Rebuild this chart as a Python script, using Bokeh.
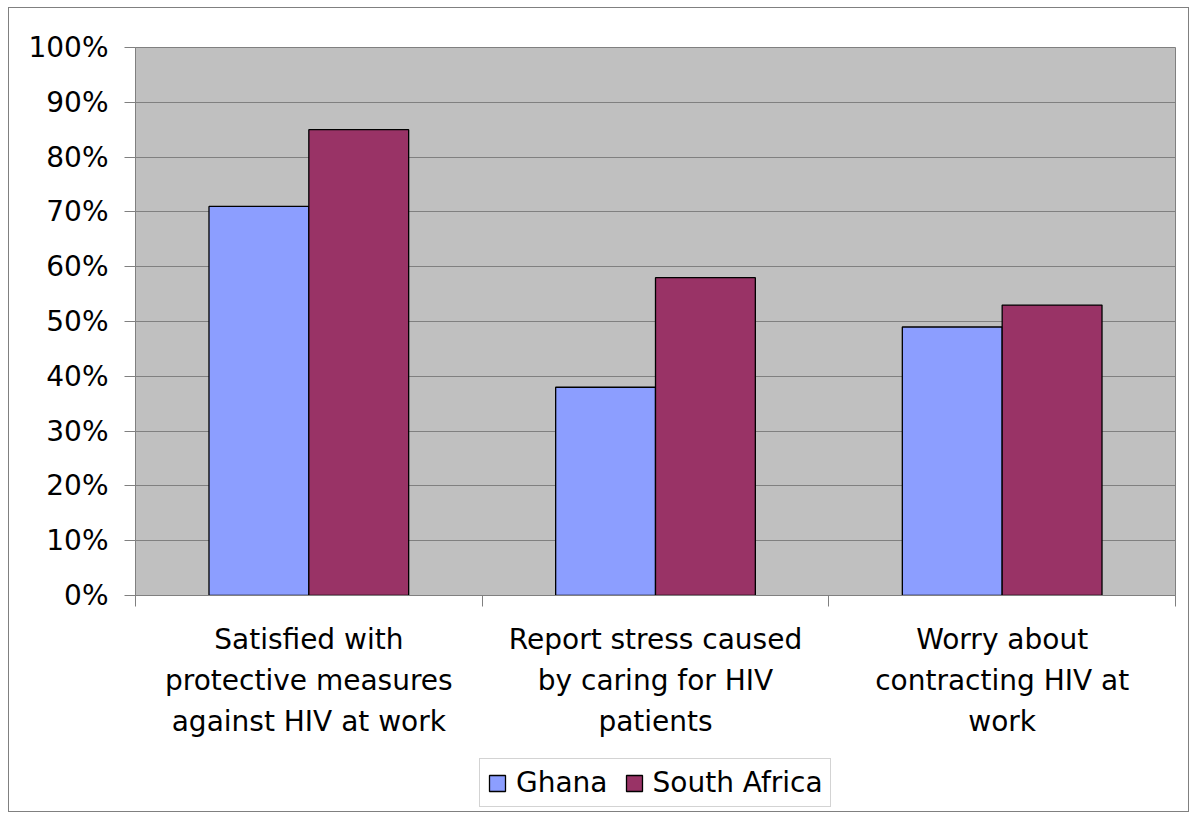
from bokeh.plotting import figure
from bokeh.layouts import column
from bokeh.models import Range1d, LinearAxis, FixedTicker, Legend, LegendItem, ColumnDataSource
from bokeh.transform import dodge
from bokeh.embed import file_html
from bokeh.resources import INLINE

# ---- data ----
categories = ["Satisfied with protective measures against HIV at work",
              "Report stress caused by caring for HIV patients",
              "Worry about contracting HIV at work"]
category_lines = [["Satisfied with", "protective measures", "against HIV at work"],
                  ["Report stress caused", "by caring for HIV", "patients"],
                  ["Worry about", "contracting HIV at", "work"]]
ghana = [71, 38, 49]
south_africa = [85, 58, 53]
y_ticks = [0, 10, 20, 30, 40, 50, 60, 70, 80, 90, 100]
series_names = ["Ghana", "South Africa"]
series_colors = ["#8C9EFF", "#993366"]

FONT = "DejaVu Sans"
FSIZE = "28px"
GRAY = "#808080"

centers = [i + 0.5 for i in range(len(categories))]
bounds = [float(i) for i in range(len(categories) + 1)]
src = ColumnDataSource(dict(x=centers, ghana=ghana, sa=south_africa))

p = figure(width=1179, height=744, output_backend="svg", toolbar_location=None,
           x_range=Range1d(0, len(categories)), y_range=Range1d(0, 100),
           x_axis_location=None,
           min_border_left=126, min_border_top=39, min_border_right=13, min_border_bottom=157)
p.background_fill_color = "#C0C0C0"
p.border_fill_color = "white"
p.outline_line_color = GRAY
p.outline_line_width = 1

bw = 0.288
p.vbar(x=dodge("x", -bw / 2, range=p.x_range), top="ghana", width=bw, source=src,
       fill_color=series_colors[0], line_color="black", line_width=1.3)
p.vbar(x=dodge("x", bw / 2, range=p.x_range), top="sa", width=bw, source=src,
       fill_color=series_colors[1], line_color="black", line_width=1.3)

# y axis
ya = p.yaxis[0]
ya.ticker = FixedTicker(ticks=y_ticks)
ya.major_label_overrides = {v: f"{v}%" for v in y_ticks}
ya.major_label_text_font = FONT
ya.major_label_text_font_size = FSIZE
ya.major_label_text_color = "black"
ya.major_tick_in = 0
ya.major_tick_out = 11
ya.major_tick_line_color = GRAY
ya.minor_tick_line_color = None
ya.axis_line_color = GRAY
ya.major_label_standoff = 16

p.xgrid.grid_line_color = None
p.ygrid.grid_line_color = GRAY
p.ygrid.ticker = FixedTicker(ticks=y_ticks)

# x axes: one per label line
for k in range(3):
    ax = LinearAxis(ticker=FixedTicker(ticks=centers, minor_ticks=bounds if k == 0 else []))
    ax.major_label_overrides = {c: lines[k] for c, lines in zip(centers, category_lines)}
    ax.major_label_text_font = FONT
    ax.major_label_text_font_size = FSIZE
    ax.major_label_text_color = "black"
    ax.major_tick_line_color = None
    ax.major_tick_in = 0
    ax.major_tick_out = 0
    if k == 0:
        ax.minor_tick_in = 0
        ax.minor_tick_out = 11
        ax.minor_tick_line_color = GRAY
        ax.axis_line_color = GRAY
        ax.major_label_standoff = 16
    else:
        ax.minor_tick_line_color = None
        ax.axis_line_color = None
        ax.major_label_standoff = 5
    p.add_layout(ax, "below")

# legend strip (separate figure so the legend is not clipped by the plot frame)
lg = figure(width=1179, height=59, output_backend="svg", toolbar_location=None,
            x_range=Range1d(0, 1), y_range=Range1d(0, 1),
            x_axis_location=None, y_axis_location=None,
            min_border_left=0, min_border_right=0, min_border_top=0, min_border_bottom=0)
lg.outline_line_color = None
lg.background_fill_color = "white"
lg.border_fill_color = "white"
lg.xgrid.grid_line_color = None
lg.ygrid.grid_line_color = None
items = []
for name, col in zip(series_names, series_colors):
    # legend-only renderer (hidden; the legend still draws its swatch)
    r = lg.vbar(x=[0.5], top=[1], width=0.1, fill_color=col, line_color="black", line_width=1.3)
    r.visible = False
    items.append(LegendItem(label=name, renderers=[r]))

legend = Legend(items=items, orientation="horizontal", location=(344, 4))
legend.label_text_font = FONT
legend.label_text_font_size = FSIZE
legend.label_text_color = "black"
legend.glyph_width = 20
legend.glyph_height = 20
legend.label_standoff = 9
legend.spacing = 16
legend.padding = 7
legend.margin = 0
legend.border_line_color = "#A8A8A8"
legend.background_fill_color = "white"
legend.background_fill_alpha = 1
legend.inactive_fill_alpha = 0
lg.add_layout(legend, "center")

layout = column(p, lg, spacing=0)
layout.styles = {"margin-left": "8px", "margin-top": "7px", "border": "1px solid #808080"}

open("out.html", "w").write(file_html(layout, INLINE))
